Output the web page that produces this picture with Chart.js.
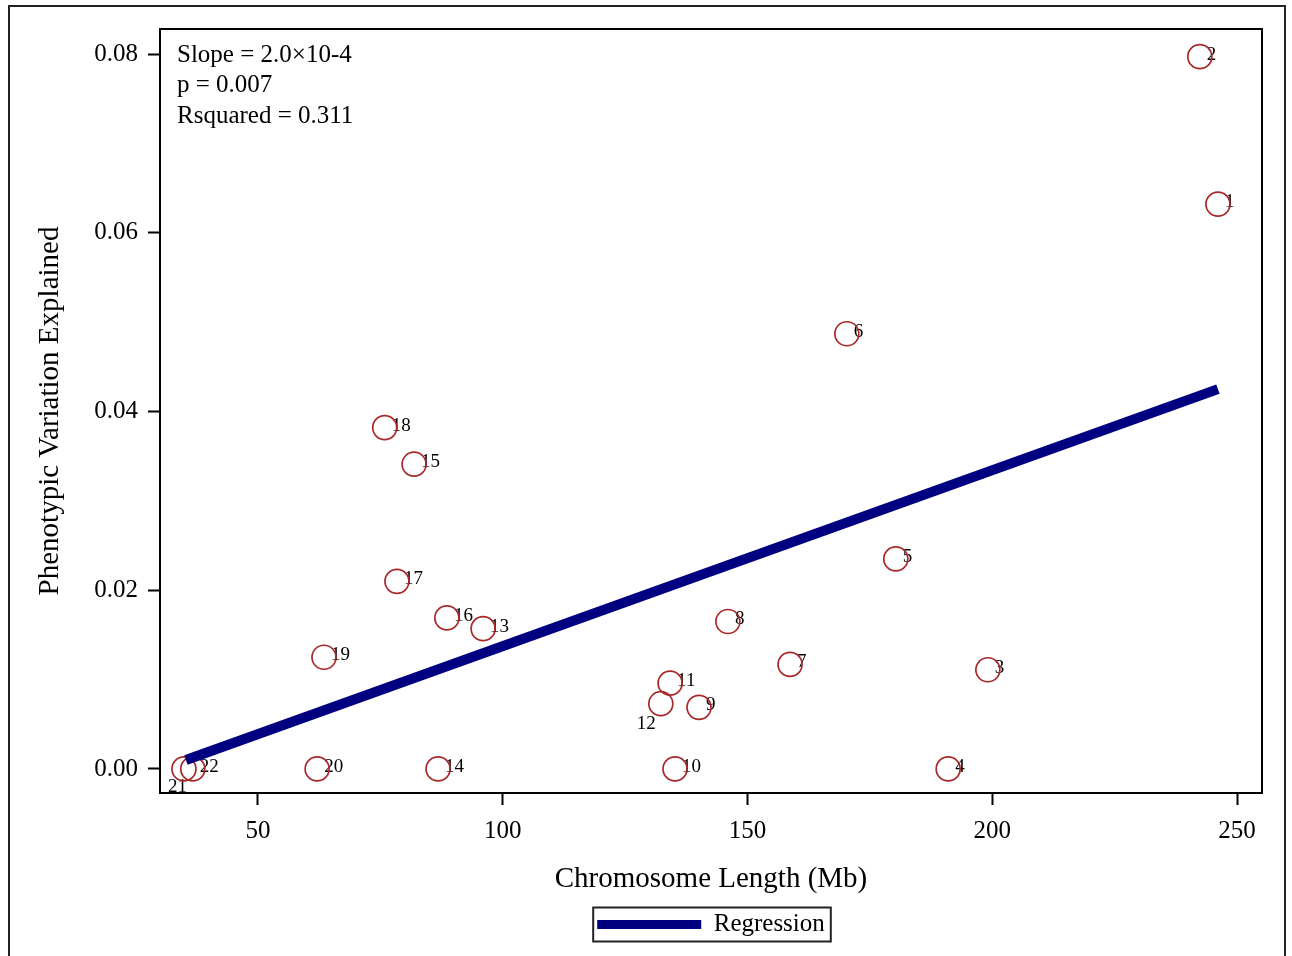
<!DOCTYPE html>
<html>
<head>
<meta charset="utf-8">
<title>Chromosome length vs phenotypic variation</title>
<script src="https://cdn.jsdelivr.net/npm/chart.js@4.4.1/dist/chart.umd.min.js"></script>
<style>
  html, body { margin: 0; padding: 0; background: #fff; }
  #wrap { width: 1292px; height: 956px; }
</style>
</head>
<body>
<div id="wrap"><canvas id="grafico" width="1292" height="956"></canvas></div>
<script>
// datos
const cromosomas = ["1","2","3","4","5","6","7","8","9","10","11","12","13","14","15","16","17","18","19","20","21","22"];
const longitudMb = [246.1, 242.4, 199.1, 191.0, 180.3, 170.3, 158.7, 146.0, 140.1, 135.2, 134.2, 132.3, 96.0, 86.8, 81.9, 88.6, 78.4, 75.9, 63.5, 62.1, 34.9, 36.7];
const varianza = [0.0632, 0.0797, 0.0111, 0.0000, 0.0235, 0.0487, 0.0117, 0.0165, 0.0069, 0.0000, 0.0096, 0.0073, 0.0157, 0.0000, 0.0341, 0.0169, 0.0210, 0.0382, 0.0125, 0.0000, 0.0000, 0.0000];
const posEtiqueta = ["ne","ne","ne","ne","ne","ne","ne","ne","ne","ne","ne","sw","ne","ne","ne","ne","ne","ne","ne","ne","s","ne"];

// extremos de la recta de regresion
const regX = [35.3, 246.1];
const regY = [0.0010, 0.0425];

const xTicks = [50, 100, 150, 200, 250];
const yTicks = [0.00, 0.02, 0.04, 0.06, 0.08];

const anotacion = ["Slope = 2.0\u00d710-4", "p = 0.007", "Rsquared = 0.311"];

const serif = "'Liberation Serif', 'Times New Roman', serif";

// etiquetas de los puntos (debajo de la recta), marco y texto
const extras = {
  id: "extras",
  beforeDatasetsDraw(chart) {
    const ctx = chart.ctx;
    const xs = chart.scales.x, ys = chart.scales.y;
    ctx.save();
    ctx.font = "19px " + serif;
    ctx.fillStyle = "#000";
    cromosomas.forEach((c, i) => {
      const px = xs.getPixelForValue(longitudMb[i]);
      const py = ys.getPixelForValue(varianza[i]);
      if (posEtiqueta[i] === "sw") {
        ctx.textAlign = "right";
        ctx.fillText(c, px - 5, py + 20);
      } else if (posEtiqueta[i] === "s") {
        ctx.textAlign = "right";
        ctx.fillText(c, px + 3, py + 18);
      } else {
        ctx.textAlign = "left";
        ctx.fillText(c, px + 7, py - 2);
      }
    });
    ctx.restore();
  },
  afterDraw(chart) {
    const ctx = chart.ctx;
    const a = chart.chartArea;
    ctx.save();
    ctx.strokeStyle = "#000";
    ctx.lineWidth = 2;
    ctx.strokeRect(a.left, a.top, a.right - a.left, a.bottom - a.top);
    ctx.strokeStyle = "#222";
    ctx.strokeRect(9, 6, 1276, 1000);

    ctx.font = "25px " + serif;
    ctx.fillStyle = "#000";
    ctx.textAlign = "left";
    ctx.textBaseline = "middle";
    anotacion.forEach((t, i) => {
      ctx.fillText(t, a.left + 17, a.top + 26 + i * 30.5);
    });

    // borde de la leyenda
    const hb = chart.legend.legendHitBoxes[0];
    if (hb) {
      const cy = hb.top + hb.height / 2;
      ctx.lineWidth = 2;
      ctx.strokeRect(hb.left - 4, cy - 17, hb.width + 10, 34);
    }
    ctx.restore();
  }
};

const config = {
  type: "scatter",
  data: {
    datasets: [
      {
        type: "line",
        label: "Regression",
        data: regX.map((x, i) => ({ x: x, y: regY[i] })),
        borderColor: "#000080",
        backgroundColor: "#000080",
        borderWidth: 10,
        pointRadius: 0,
        fill: false,
        order: 0
      },
      {
        label: "Cromosomas",
        data: longitudMb.map((x, i) => ({ x: x, y: varianza[i] })),
        pointStyle: "circle",
        pointRadius: 12,
        pointHoverRadius: 12,
        borderColor: "#A8282A",
        backgroundColor: "rgba(0,0,0,0)",
        borderWidth: 1.7,
        order: 1
      }
    ]
  },
  plugins: [extras],
  options: {
    responsive: false,
    devicePixelRatio: 1,
    animation: false,
    layout: { padding: { top: 29, right: 30, left: 0, bottom: 9 } },
    plugins: {
      tooltip: { enabled: false },
      legend: {
        position: "bottom",
        fullSize: false,
        labels: {
          font: { family: serif, size: 25 },
          color: "#000",
          boxWidth: 104,
          boxHeight: 9,
          padding: 4,
          generateLabels() {
            return [{ text: "Regression", fillStyle: "#000080", strokeStyle: "#000080", lineWidth: 0, datasetIndex: 0 }];
          }
        }
      }
    },
    scales: {
      x: {
        type: "linear",
        min: 30,
        max: 255.1,
        afterFit(s) { s.height = 115; },
        afterBuildTicks(s) { s.ticks = xTicks.map(v => ({ value: v })); },
        grid: { drawOnChartArea: false, drawTicks: true, tickLength: 12, tickWidth: 2, tickColor: "#000" },
        border: { display: true, color: "#000", width: 2 },
        ticks: { font: { family: serif, size: 25 }, color: "#000", padding: 11, maxRotation: 0 },
        title: { display: true, text: "Chromosome Length (Mb)", font: { family: serif, size: 29 }, color: "#000", padding: { top: 0, bottom: 11 } }
      },
      y: {
        type: "linear",
        min: -0.00269,
        max: 0.0828,
        afterFit(s) { s.width = 160; },
        afterBuildTicks(s) { s.ticks = yTicks.map(v => ({ value: v })); },
        grid: { drawOnChartArea: false, drawTicks: true, tickLength: 12, tickWidth: 2, tickColor: "#000" },
        border: { display: true, color: "#000", width: 2 },
        ticks: { font: { family: serif, size: 25 }, color: "#000", padding: 10, callback: v => v.toFixed(2) },
        title: { display: true, text: "Phenotypic Variation Explained", font: { family: serif, size: 29 }, color: "#000", padding: { top: 33, bottom: 0 } }
      }
    }
  }
};

new Chart(document.getElementById("grafico"), config);
</script>
</body>
</html>
